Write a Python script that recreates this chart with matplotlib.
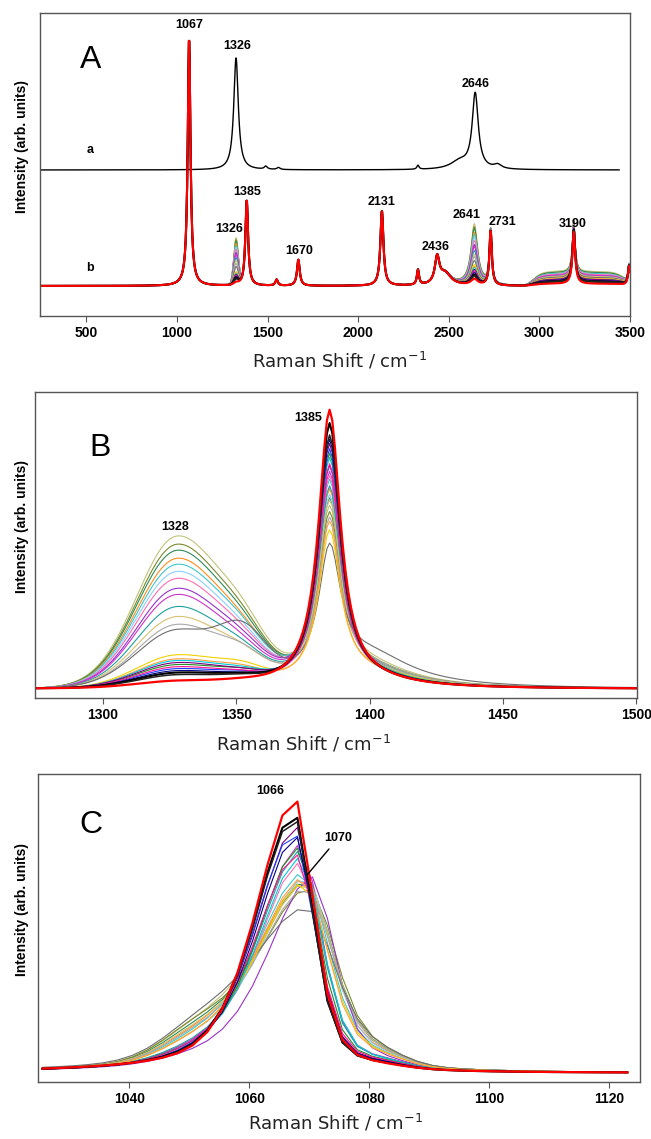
import numpy as np
import matplotlib
matplotlib.use('Agg')
import matplotlib.pyplot as plt

plt.rcParams['font.family'] = ['Liberation Sans', 'DejaVu Sans']

# ---- sample set: same order in every panel (red drawn last, on top) ----
spec_colors = ['#c2c27a', '#7a8b2a', '#2e8b57', '#ff8c1a', '#3cc8d0', '#8ccfff',
               '#ff6eb4', '#9932cc', '#cc33cc', '#20a0a0', '#d8c070', '#a8a8a8',
               '#6e6e6e', '#f0d000', '#ffa040', '#00c8d8', '#228b22', '#800080',
               '#1e3cff', '#ff1493', '#000080', '#000000', '#202020', '#ff0000']
spec_lw = [0.8] * 21 + [1.5, 1.1, 1.6]

# panel A, spectrum a (peak position, height, FWHM)
a_pos = [1326, 1490, 1560, 2330, 2560, 2646, 2770]
a_h = [112, 3, 2, 4, 8, 75, 4]
a_w = [30, 20, 20, 14, 120, 40, 50]
a_base = 146

# panel A, spectrum b: bands common to all samples
b_pos = [1067, 1385, 1550, 1670, 2131, 2330, 2436, 2480, 2731, 3190, 3495]
b_h = [248, 86, 6, 26, 75, 15, 26, 12, 55, 52, 20]
b_w = [18, 18, 16, 18, 20, 14, 30, 80, 16, 18, 14]
b_base = 30
# panel A, spectrum b: bands that change from sample to sample
a_1326 = [46, 44, 42, 40, 38, 36, 34, 31, 29, 26, 23, 20, 17, 12, 11, 10, 9, 9, 8, 8, 7, 6, 5, 2]
a_2641 = [61, 58, 56, 52, 50, 47, 44, 40, 38, 34, 30, 28, 24, 20, 18, 17, 15, 15, 14, 14, 12, 10, 9, 6]
a_plat = [14, 13, 13, 12, 12, 11, 11, 10, 10, 9, 9, 8, 8, 7, 7, 6, 6, 6, 5, 5, 5, 4, 4, 2]

# panel B: band heights above baseline
b_1385 = [170, 165, 180, 190, 200, 185, 205, 215, 210, 195, 180, 160,
          125, 150, 160, 225, 230, 240, 235, 220, 245, 262, 250, 276]
b_1328 = [150, 142, 136, 128, 122, 115, 108, 98, 92, 80, 70, 62,
          56, 32, 28, 26, 22, 24, 18, 20, 16, 14, 12, 6]
b_1353 = [25, 22, 20, 18, 18, 16, 15, 14, 12, 12, 12, 15,
          38, 10, 8, 6, 6, 5, 5, 5, 4, 4, 4, 2]
b_tail = [20, 18, 16, 15, 14, 14, 12, 12, 11, 12, 14, 18,
          32, 14, 12, 10, 9, 8, 8, 8, 7, 6, 6, 5]

# panel C: 1066-1070 band (height, centre, left/right half widths, shoulders)
c_h = [190, 185, 192, 195, 200, 196, 210, 196, 228, 222, 190, 185,
       165, 190, 195, 215, 225, 246, 240, 218, 236, 259, 255, 274]
c_c = [1069.5, 1070, 1069.5, 1069.5, 1069, 1069.5, 1068.5, 1070.5, 1068.5, 1068.5, 1069.5, 1069.5,
       1069.5, 1069, 1069, 1068.5, 1068.2, 1067.8, 1067.5, 1068, 1067.8, 1067.5, 1067.5, 1067.6]
c_gl = [10.5, 10.5, 10, 10, 9.5, 9.5, 8.5, 9, 8.5, 8.5, 10, 10,
        12, 9.5, 9.5, 8.5, 8.2, 8, 8, 8.5, 8, 7.8, 7.8, 7.7]
c_gr = [5.5, 5.5, 5.5, 5.2, 5.2, 5.2, 4.5, 4.5, 4.3, 4.3, 5.5, 5.5,
        6, 5.2, 5, 4.5, 4.2, 4, 4, 4.2, 4, 3.8, 3.8, 3.8]
c_sh = [10, 10, 9, 9, 8, 8, 6, 6, 6, 6, 9, 9,
        10, 8, 8, 5, 5, 4, 4, 5, 4, 3, 3, 2]
c_lsh = [22, 25, 22, 18, 16, 16, 10, 5, 8, 10, 20, 18,
         20, 15, 14, 8, 8, 4, 4, 6, 4, 2, 2, 0]


def lor(x, c, h, w):
    return h / (1 + ((x - c) / (w / 2.0)) ** 2)


def gau(x, c, h, w):
    return h * np.exp(-4 * np.log(2) * ((x - c) / w) ** 2)


def apv(x, c, h, gl, gr):
    # asymmetric pseudo-Voigt, gl / gr = half widths on each side
    g = np.where(x < c, gl, gr)
    d2 = ((x - c) / g) ** 2
    return h * (0.5 / (1 + d2) + 0.5 * np.exp(-np.log(2) * d2))


def style_axes(ax, xlim, ylim, ticks, lab_x, lab_y, ylab_x):
    ax.set_xlim(*xlim)
    ax.set_ylim(*ylim)
    ax.set_xticks(ticks)
    ax.set_yticks([])
    for s in ax.spines.values():
        s.set_color('#555555')
        s.set_linewidth(1.0)
    ax.tick_params(axis='x', direction='out', length=4, width=0.8, color='#555555', pad=3)
    for t in ax.get_xticklabels():
        t.set_fontweight('bold')
        t.set_fontsize(10)
    ax.set_xlabel('Raman Shift / cm$^{-1}$', family='DejaVu Sans', fontsize=13, color='#222222')
    ax.xaxis.set_label_coords(lab_x, lab_y)
    ax.set_ylabel('Intensity (arb. units)', fontsize=10, fontweight='bold')
    ax.yaxis.set_label_coords(ylab_x, 0.56)


fig = plt.figure(figsize=(6.51, 11.39), dpi=100)

# ---------------- panel A ----------------
axA = fig.add_axes([0.0614, 0.7226, 0.9063, 0.2660])
xa = np.arange(250, 3441, 2.0)
ya = np.full_like(xa, a_base)
for p, h, w in zip(a_pos, a_h, a_w):
    ya += lor(xa, p, h, w)
axA.plot(xa, ya, color='black', lw=1.0)

xb = np.arange(250, 3501, 2.0)
common = np.full_like(xb, b_base)
for p, h, w in zip(b_pos, b_h, b_w):
    common += lor(xb, p, h, w)
for i in range(len(spec_colors)):
    yb = (common + gau(xb, 1326, a_1326[i], 30) + lor(xb, 2641, a_2641[i], 45)
          + a_plat[i] * np.exp(-((xb - 3220) / 260.0) ** 8))
    axA.plot(xb, yb, color=spec_colors[i], lw=spec_lw[i] if i < 21 else 1.5)

peaksA = [(1067, 291, '1067'), (1331, 270, '1326'), (2648, 232, '2646'),
          (1386, 124, '1385'), (1289, 87, '1326'), (1674, 65, '1670'),
          (2130, 114, '2131'), (2425, 69, '2436'), (2601, 101, '2641'),
          (2797, 94, '2731'), (3184, 92, '3190')]
for x, y, s in peaksA:
    axA.text(x, y, s, ha='center', va='center', fontsize=9, fontweight='bold')
axA.text(523, 166, 'a', ha='center', va='center', fontsize=9, fontweight='bold')
axA.text(519, 48, 'b', ha='center', va='center', fontsize=9, fontweight='bold')
axA.text(523, 256, 'A', ha='center', va='center', fontsize=23)
style_axes(axA, (244, 3500), (0, 303), range(500, 3501, 500), 0.507, -0.115, -0.018)

# ---------------- panel B ----------------
axB = fig.add_axes([0.0545, 0.3872, 0.9240, 0.2687])
xB = np.arange(1275, 1500.5, 1.0)
for i in range(len(spec_colors)):
    band = np.where(xB < 1328, gau(xB, 1328, b_1328[i], 36), gau(xB, 1328, b_1328[i], 42))
    yB = (9 + band + gau(xB, 1353, b_1353[i], 20) + lor(xB, 1385, b_1385[i], 10)
          + lor(xB, 1400, b_tail[i], 40))
    axB.plot(xB, yB, color=spec_colors[i], lw=spec_lw[i])
axB.text(1377, 280, '1385', ha='center', va='center', fontsize=9, fontweight='bold')
axB.text(1327, 171, '1328', ha='center', va='center', fontsize=9, fontweight='bold')
axB.text(1299, 250, 'B', ha='center', va='center', fontsize=23)
style_axes(axB, (1274.7, 1500.3), (0, 306), range(1300, 1501, 50), 0.445, -0.115, -0.011)

# ---------------- panel C ----------------
axC = fig.add_axes([0.0578, 0.0500, 0.9253, 0.2704])
xC = np.arange(1025.5, 1125, 2.5)
for i in range(len(spec_colors)):
    yC = (9 + apv(xC, c_c[i], c_h[i], c_gl[i], c_gr[i])
          + gau(xC, 1082, c_sh[i], 10) + gau(xC, 1051, c_lsh[i], 14))
    axC.plot(xC, yC, color=spec_colors[i], lw=spec_lw[i])
axC.text(1063.5, 291, '1066', ha='center', va='center', fontsize=9, fontweight='bold')
axC.annotate('1070', xy=(1069.6, 207), xytext=(1074.8, 244), ha='center', va='center',
             fontsize=9, fontweight='bold',
             arrowprops=dict(arrowstyle='-', color='black', lw=1.0, shrinkA=2, shrinkB=0))
axC.text(1033.6, 257, 'C', ha='center', va='center', fontsize=23)
style_axes(axC, (1024.7, 1125.1), (0, 308), range(1040, 1121, 20), 0.494, -0.10, -0.014)

plt.savefig('out.png', dpi=100)
